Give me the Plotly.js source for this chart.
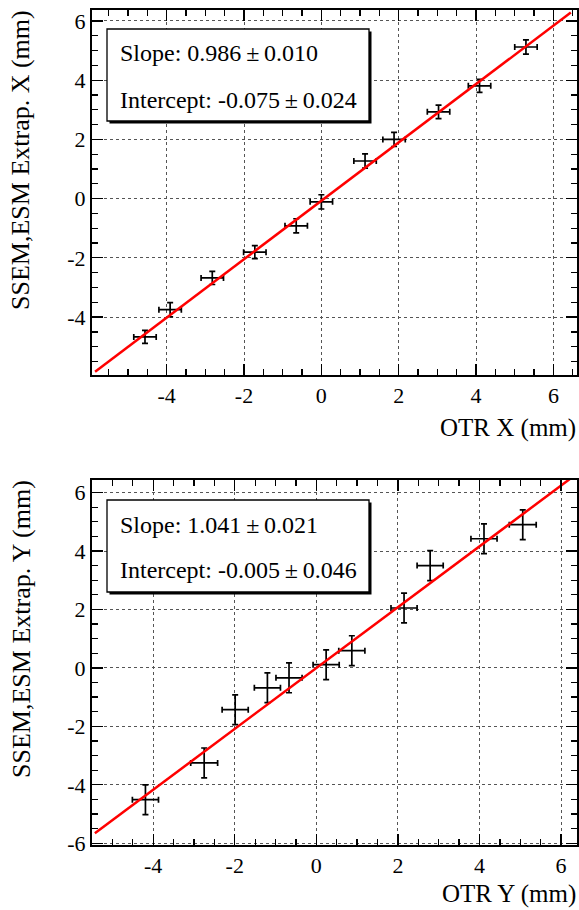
<!DOCTYPE html>
<html>
<head>
<meta charset="utf-8">
<script src="https://cdn.plot.ly/plotly-3.0.1.min.js"></script>
<style>
html,body{margin:0;padding:0;background:#fff;}
#chart{width:579px;height:910px;}
</style>
</head>
<body>
<div id="chart"></div>
<script>
// ---- Data: top panel (X) ----
const otrX      = [-4.56, -3.91, -2.82, -1.72, -0.65, 0.00, 1.13, 1.88, 3.03, 4.09, 5.29];
const ssemX     = [-4.67, -3.75, -2.68, -1.81, -0.92, -0.11, 1.27, 2.00, 2.93, 3.81, 5.12];
const otrXErr   = [0.29, 0.29, 0.29, 0.29, 0.29, 0.29, 0.29, 0.29, 0.29, 0.29, 0.29];
const ssemXErr  = [0.22, 0.24, 0.22, 0.22, 0.24, 0.24, 0.24, 0.24, 0.23, 0.22, 0.24];
const fitXSlope = 0.986, fitXSlopeErr = "0.010";
const fitXIntercept = -0.075, fitXInterceptErr = "0.024";
const fitXRange = [-5.85, 6.45];

// ---- Data: bottom panel (Y) ----
const otrY      = [-4.19, -2.75, -1.99, -1.20, -0.67, 0.24, 0.87, 2.15, 2.79, 4.11, 5.06];
const ssemY     = [-4.51, -3.25, -1.43, -0.68, -0.34, 0.11, 0.59, 2.05, 3.50, 4.42, 4.90];
const otrYErr   = [0.32, 0.33, 0.32, 0.32, 0.32, 0.32, 0.32, 0.32, 0.32, 0.32, 0.33];
const ssemYErr  = [0.51, 0.51, 0.51, 0.51, 0.51, 0.51, 0.51, 0.51, 0.51, 0.51, 0.51];
const fitYSlope = 1.041, fitYSlopeErr = "0.021";
const fitYIntercept = -0.005, fitYInterceptErr = "0.046";
const fitYRange = [-5.43, 6.25];

// ---- Tick labels ----
const xTickVals = [-4, -2, 0, 2, 4, 6];
const xTickText = ["-4", "-2", "0", "2", "4", "6"];
const yTopTickVals = [-4, -2, 0, 2, 4, 6];
const yTopTickText = ["-4", "-2", "0", "2", "4", "6"];
const yBotTickVals = [-6, -4, -2, 0, 2, 4, 6];
const yBotTickText = ["-6", "-4", "-2", "0", "2", "4", "6"];

// ---- Labels ----
const xTitleTop = "OTR X (mm)";
const yTitleTop = "SSEM,ESM Extrap. X (mm)";
const xTitleBot = "OTR Y (mm)";
const yTitleBot = "SSEM,ESM Extrap. Y (mm)";

const W = 579, H = 910;
const px = v => v / W;
const py = v => 1 - v / H;
const FONT = "Liberation Serif";

function fitLine(range, m, b) {
  const xs = [range[0], range[1]];
  return {x: xs, y: xs.map(v => m * v + b)};
}
function fmt(v){ return v.toFixed(3); }

const lineTop = fitLine(fitXRange, fitXSlope, fitXIntercept);
const lineBot = fitLine(fitYRange, fitYSlope, fitYIntercept);

const ebStyle = {type:'data', color:'#000', thickness:1.7, width:3};

const traces = [
  {x: otrX, y: ssemX, xaxis:'x', yaxis:'y', mode:'markers', type:'scatter',
   marker:{size:1, color:'#000'},
   error_x: Object.assign({array: otrXErr}, ebStyle),
   error_y: Object.assign({array: ssemXErr}, ebStyle), hoverinfo:'skip'},
  {x: lineTop.x, y: lineTop.y, xaxis:'x', yaxis:'y', mode:'lines', type:'scatter',
   line:{color:'#ff0000', width:2.5}, hoverinfo:'skip'},
  {x: otrY, y: ssemY, xaxis:'x2', yaxis:'y2', mode:'markers', type:'scatter',
   marker:{size:1, color:'#000'},
   error_x: Object.assign({array: otrYErr}, ebStyle),
   error_y: Object.assign({array: ssemYErr}, ebStyle), hoverinfo:'skip'},
  {x: lineBot.x, y: lineBot.y, xaxis:'x2', yaxis:'y2', mode:'lines', type:'scatter',
   line:{color:'#ff0000', width:2.5}, hoverinfo:'skip'}
];

function axis(extra){
  return Object.assign({
    showline:true, linecolor:'#000', linewidth:2, mirror:'allticks',
    ticks:'inside', ticklen:11, tickwidth:1.3, tickcolor:'#000',
    tickmode:'array',
    minor:{ticks:'inside', ticklen:6, tickwidth:1.3, tickcolor:'#000', tick0:0, dtick:0.5, showgrid:false},
    showgrid:true, gridcolor:'#555', griddash:'dot', gridwidth:1,
    zeroline:false, fixedrange:true,
    tickfont:{family:FONT, size:22, color:'#000'}
  }, extra);
}

const layout = {
  width: W, height: H,
  margin:{l:0, r:0, t:0, b:0},
  paper_bgcolor:'#fff', plot_bgcolor:'#fff',
  showlegend:false,
  font:{family:FONT},
  xaxis: axis({domain:[px(92), px(577)], range:[-5.93, 6.61], anchor:'y', tickvals:xTickVals, ticktext:xTickText}),
  yaxis: axis({domain:[py(374.5), py(10)], range:[-5.94, 6.37], anchor:'x', tickvals:yTopTickVals, ticktext:yTopTickText}),
  xaxis2: axis({domain:[px(92), px(577)], range:[-5.50, 6.39], anchor:'y2', tickvals:xTickVals, ticktext:xTickText}),
  yaxis2: axis({domain:[py(845), py(480)], range:[-6.06, 6.43], anchor:'x2', tickvals:yBotTickVals, ticktext:yBotTickText}),
  shapes: [],
  annotations: []
};

function statBox(x0, y0, x1, y1, lines, ys){
  layout.shapes.push({type:'rect', xref:'paper', yref:'paper', x0:px(x0+2.5), x1:px(x1+2.5), y0:py(y1+2.5), y1:py(y0+2.5),
    line:{width:0}, fillcolor:'#000', layer:'above'});
  layout.shapes.push({type:'rect', xref:'paper', yref:'paper', x0:px(x0), x1:px(x1), y0:py(y1), y1:py(y0),
    line:{width:1.3, color:'#000'}, fillcolor:'#fff', layer:'above'});
  lines.forEach((t, i) => {
    layout.annotations.push({xref:'paper', yref:'paper', x:px(x0+11), y:py(ys[i]), xanchor:'left', yanchor:'middle',
      text:t, showarrow:false, font:{family:FONT, size:24, color:'#000'}});
  });
}
const pm = "\u2009\u00b1\u2009";
statBox(107, 29, 369, 121,
  ["Slope: " + fmt(fitXSlope) + pm + fitXSlopeErr, "Intercept: " + fmt(fitXIntercept) + pm + fitXInterceptErr],
  [53, 100]);
statBox(107, 500, 369, 592,
  ["Slope: " + fmt(fitYSlope) + pm + fitYSlopeErr, "Intercept: " + fmt(fitYIntercept) + pm + fitYInterceptErr],
  [525, 570]);

function titles(xt, yt, xtitleY, ytitleTop){
  layout.annotations.push({xref:'paper', yref:'paper', x:px(578), y:py(xtitleY), xanchor:'right', yanchor:'middle',
    text:xt, showarrow:false, font:{family:FONT, size:25, color:'#000'}});
  layout.annotations.push({xref:'paper', yref:'paper', x:px(21), y:py(ytitleTop), xanchor:'center', yanchor:'top',
    text:yt, textangle:-90, showarrow:false, font:{family:FONT, size:26, color:'#000'}});
}
titles(xTitleTop, yTitleTop, 428, 8);
titles(xTitleBot, yTitleBot, 894, 478);

Plotly.newPlot('chart', traces, layout, {staticPlot:true, displayModeBar:false});
</script>
</body>
</html>
